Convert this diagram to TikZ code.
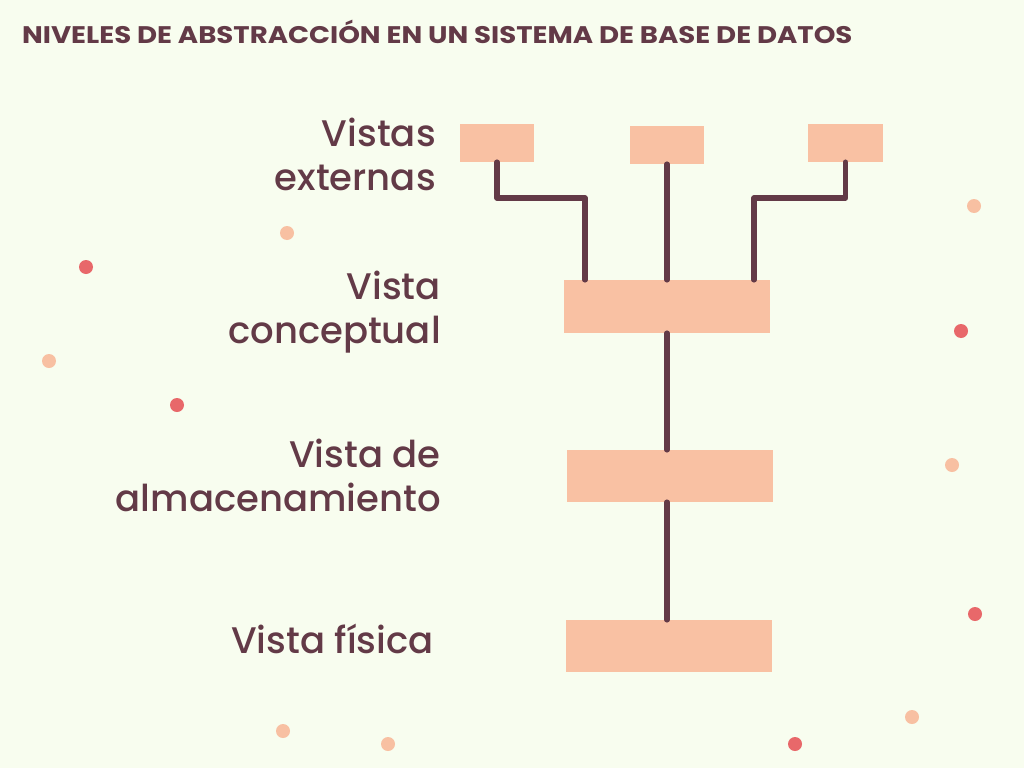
\documentclass[tikz,border=0pt]{standalone}
\usepackage{fontspec}
\setmainfont{Poppins}
\newfontfamily\labfont{Poppins}[UprightFont={* Medium}]
\definecolor{bg}{HTML}{F8FDEF}
\definecolor{ink}{HTML}{633A47}
\definecolor{boxc}{HTML}{F9C1A3}
\definecolor{dotred}{HTML}{E8686A}
\definecolor{dotpeach}{HTML}{F8C0A2}
\tikzset{
  lvl/.style={fill=boxc, draw=none, inner sep=0pt, rectangle},
  conn/.style={draw=ink, line width=5.5pt, line cap=round, line join=round},
  lab/.style={text=ink, inner sep=0pt, align=right, font=\labfont\fontsize{37}{44}\selectfont},
  pdot/.style={fill=dotpeach},
  rdot/.style={fill=dotred},
}
\begin{document}
\begin{tikzpicture}[x=1pt,y=-1pt]
\fill[bg] (0,0) rectangle (1024,768);
\useasboundingbox (0,0) rectangle (1024,768);

% title
\node[anchor=base west, inner sep=0pt, text=ink, font=\fontsize{24}{28}\selectfont\bfseries] (title) at (22,44) {\scalebox{1.15}[1]{NIVELES DE ABSTRACCIÓN EN UN SISTEMA DE BASE DE DATOS}};

% boxes
\node[lvl, minimum width=74pt, minimum height=38pt] (e1) at (497,143) {};
\node[lvl, minimum width=74pt, minimum height=38pt] (e2) at (667,145) {};
\node[lvl, minimum width=75pt, minimum height=38pt] (e3) at (845.5,143) {};
\node[lvl, minimum width=206pt, minimum height=53pt] (conc) at (667,306.5) {};
\node[lvl, minimum width=206pt, minimum height=52pt] (alm) at (670,476) {};
\node[lvl, minimum width=206pt, minimum height=52pt] (fis) at (669,646) {};

% labels (base anchor = baseline of the last line)
\node[lab, anchor=base east] (l1) at (436,190) {Vistas\\externas};
\node[lab, anchor=base east] (l2) at (441,343) {Vista\\conceptual};
\node[lab, anchor=base east] (l3) at (441,511) {Vista de\\almacenamiento};
\node[lab, anchor=base east] (l4) at (434,653) {Vista física};

% connectors
\coordinate (jl) at (585,198);
\coordinate (jr) at (754,198);
\draw[conn] (e1.south) |- (jl) -- (jl |- conc.north);
\draw[conn] (e2.south) -- (e2.south |- conc.north);
\draw[conn] (e3.south) |- (jr) -- (jr |- conc.north);
\draw[conn] (conc.south) -- (conc.south |- alm.north);
\draw[conn] (alm.south -| conc.south) -- (fis.north -| conc.south);

% decorative dots
\foreach \x/\y in {287/233, 49/361, 974/206, 952/465, 912/717, 283/731, 388/744}
  \fill[pdot] (\x,\y) circle (7pt);
\foreach \x/\y in {86/267, 177/405, 961/331, 975/614, 795/744}
  \fill[rdot] (\x,\y) circle (7pt);
\end{tikzpicture}
\end{document}
